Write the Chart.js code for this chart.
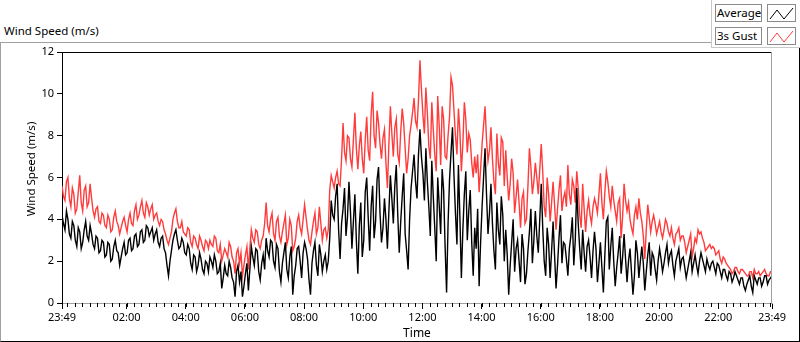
<!DOCTYPE html>
<html>
<head>
<meta charset="utf-8">
<script src="https://cdn.jsdelivr.net/npm/chart.js@4.4.1/dist/chart.umd.min.js"></script>
<style>
  body { margin: 0; background: #fff; font-family: "Noto Sans", sans-serif; }
  #wrap { position: relative; width: 800px; height: 342px; overflow: hidden; }
  #panel { position: absolute; left: 0; top: 42px; width: 798px; height: 298px;
           border-top: 1px solid #a0a0a0; border-left: 1px solid #a0a0a0;
           border-right: 1px solid #000; border-bottom: 1px solid #000; }
  #title { position: absolute; left: 4px; top: 23px; font-size: 11.5px; color: #000; }
  #ytitle { position: absolute; left: -24px; top: 161px; width: 110px; height: 16px; line-height: 16px;
            text-align: center; font-size: 11.5px; transform: rotate(-90deg); }
  #legend { position: absolute; left: 711px; top: 0; width: 89px; height: 48px; background: #fff;
            border-left: 1px solid #c8c8c8; border-bottom: 1px solid #c8c8c8; box-sizing: border-box; }
  .lbl { position: absolute; left: 3px; width: 47px; height: 18px; border: 1px solid #8a8a8a;
         box-sizing: border-box; font-size: 11.5px; line-height: 16px; padding-left: 1px; }
  .ico { position: absolute; left: 55px; width: 29px; height: 18px; border: 1px solid #8a8a8a; box-sizing: border-box; }
  #box { position: absolute; left: 0; top: 42px; width: 800px; height: 300px; }
</style>
</head>
<body>
<div id="wrap">
  <div id="panel"></div>
  <div id="title">Wind Speed (m/s)</div>
  <div id="legend">
    <div class="lbl" style="top:4px">Average</div>
    <div class="ico" style="top:4px"><svg width="27" height="16"><polyline points="2,13 9,4 16,13 25,2" fill="none" stroke="#000" stroke-width="1"/></svg></div>
    <div class="lbl" style="top:27px">3s Gust</div>
    <div class="ico" style="top:27px"><svg width="27" height="16"><polyline points="2,13 9,4 16,13 25,2" fill="none" stroke="#ff3c3c" stroke-width="1"/></svg></div>
  </div>
  <div id="box"><canvas id="chart" width="800" height="300"></canvas></div>
  <div id="ytitle">Wind Speed (m/s)</div>
</div>
<script>
// one sample every 3 minutes, starting 23:49 (20 samples per hour per row)
const STEP_MIN = 3;
const START_MIN = 23 * 60 + 49;
const TOTAL_MIN = 1440;

const avgSpeed = [
  4.2,3.8,3.5,4.4,4.0,3.3,3.1,3.9,3.7,3.0,2.7,3.6,3.4,2.6,2.9,3.5,3.9,3.2,3.0,3.7,
  3.3,2.8,2.6,3.2,3.1,2.4,2.5,3.0,2.9,2.2,2.3,2.9,2.8,2.0,2.1,2.7,3.0,2.5,2.4,1.8,
  2.2,2.6,2.9,2.3,2.4,3.0,3.1,2.5,2.6,3.2,3.3,2.7,2.8,3.4,3.5,2.9,3.0,3.7,3.6,3.2,
  3.4,3.6,3.0,3.3,3.5,2.9,2.7,3.1,3.2,2.6,2.4,1.8,1.3,2.0,2.5,3.0,3.3,3.5,3.0,2.6,
  2.7,3.1,2.9,2.4,2.3,2.8,2.6,1.9,1.6,2.3,2.2,1.5,1.8,2.4,2.1,1.6,1.4,2.0,1.9,1.5,
  2.2,2.0,1.7,2.3,2.0,1.4,1.5,1.9,0.7,1.2,1.8,1.4,1.3,2.0,1.7,1.2,1.0,0.3,1.5,1.8,
  1.0,1.5,0.3,0.8,1.4,1.9,0.6,1.6,2.7,2.2,1.8,2.6,2.5,1.5,1.1,1.9,2.3,1.6,3.1,2.5,
  2.2,3.0,2.9,2.0,1.7,2.8,2.6,1.5,1.0,1.9,2.4,2.9,1.6,1.2,2.2,2.7,0.4,1.3,1.8,2.6,
  2.7,2.0,1.2,2.4,2.9,2.6,2.1,1.1,0.4,1.9,2.5,2.9,1.8,1.3,2.8,2.3,1.5,2.0,2.3,1.6,
  2.0,3.1,4.9,4.2,4.0,5.1,5.7,3.5,2.1,3.8,4.5,5.5,3.2,4.1,5.8,4.4,2.6,3.9,5.2,3.0,
  1.4,3.7,4.8,2.2,3.0,5.3,6.0,4.1,2.5,4.6,5.6,3.1,3.9,5.9,6.5,4.3,2.9,3.6,5.0,4.0,
  2.6,4.4,6.1,5.0,3.8,5.6,6.6,4.2,2.4,3.9,5.1,6.2,3.3,2.5,1.6,4.0,5.5,6.3,7.1,5.8,
  5.0,7.1,8.3,7.0,6.2,4.9,7.4,5.8,4.6,3.2,6.8,5.1,3.6,2.0,6.0,4.7,3.3,6.4,5.4,2.7,
  0.5,3.8,5.9,7.2,8.4,6.1,4.3,2.8,6.6,4.1,1.2,3.5,5.2,6.3,3.0,4.4,5.4,2.9,1.3,3.6,
  2.6,4.5,0.8,2.9,4.6,6.0,7.4,5.2,3.3,4.3,5.7,3.8,2.5,1.6,4.8,3.5,2.8,5.1,4.2,2.0,
  3.5,2.3,0.4,1.8,2.9,4.0,1.5,2.6,3.0,2.0,1.0,3.3,2.6,0.9,1.4,2.5,3.4,4.5,1.9,3.0,
  4.4,3.2,2.4,4.0,5.7,3.6,2.0,1.3,3.6,2.8,1.2,2.5,3.9,2.3,0.7,1.8,3.1,4.2,1.9,2.9,
  2.8,2.1,1.3,2.6,3.2,4.1,1.8,3.0,5.5,3.8,2.6,1.6,3.5,2.4,1.5,2.7,3.0,2.2,1.2,2.5,
  3.4,2.6,1.0,1.9,2.9,1.7,0.5,2.3,3.9,4.1,1.6,2.7,3.6,2.0,0.8,1.7,2.4,3.2,1.4,2.2,
  3.3,2.1,1.0,2.0,2.6,1.5,0.4,1.3,3.0,2.4,1.2,2.0,2.7,1.9,0.6,1.5,2.3,2.9,1.3,2.4,
  2.2,1.6,1.1,2.0,2.6,2.1,1.5,1.9,2.4,2.8,1.9,2.3,2.5,1.8,1.3,2.0,2.3,2.6,1.7,2.1,
  2.2,1.7,1.2,1.6,2.0,2.4,1.5,1.9,2.3,1.8,1.4,2.0,2.4,2.1,1.8,1.5,2.1,1.8,1.6,1.9,
  2.0,1.7,1.4,1.9,1.8,1.5,1.2,1.6,1.6,1.3,1.1,1.5,1.4,1.0,1.2,1.5,1.3,1.1,0.9,1.2,
  1.2,0.8,0.6,0.9,1.1,1.3,0.8,0.5,1.3,1.1,0.9,1.2,1.2,0.8,1.0,1.3,1.3,0.9,1.1,1.2,1.3
];

const gustSpeed = [
  5.6,5.1,4.9,5.8,6.0,5.0,4.6,5.5,5.2,4.3,4.5,5.3,6.1,4.8,4.4,5.4,5.6,4.6,4.8,5.7,
  5.0,4.4,4.1,4.5,4.6,3.9,3.8,4.3,4.2,3.7,3.6,4.2,4.0,3.4,3.5,4.1,4.4,3.9,3.7,3.3,
  3.6,3.9,4.1,3.7,3.4,4.0,4.3,3.8,3.7,4.4,4.7,4.0,4.2,4.6,4.9,4.3,4.1,4.8,4.6,4.2,
  4.5,4.7,4.0,4.2,4.3,3.9,3.7,4.0,3.9,3.5,3.3,3.0,2.8,3.1,3.4,4.0,4.3,4.5,3.9,3.6,
  3.6,3.9,3.4,3.3,3.2,3.6,3.5,2.9,2.7,3.2,3.1,2.8,2.6,3.2,3.0,2.7,2.5,3.0,2.9,2.6,
  3.0,2.8,2.7,3.2,3.1,2.5,2.4,2.8,2.0,2.3,2.6,2.4,2.2,2.9,2.7,2.2,2.0,1.4,2.4,2.6,
  1.9,2.4,1.3,1.8,2.3,2.7,1.6,2.6,3.5,3.1,2.9,3.5,3.4,2.8,2.6,3.0,3.2,3.8,4.8,3.7,
  3.4,4.0,4.3,3.3,3.0,3.9,4.1,3.2,2.9,3.4,3.8,4.2,2.8,3.1,4.0,3.7,2.5,2.7,3.1,3.9,
  4.2,3.6,3.3,4.0,4.7,4.1,3.5,3.0,2.8,3.4,3.9,4.3,3.3,3.6,4.6,3.8,3.0,3.5,3.6,3.1,
  3.5,5.4,6.1,5.8,5.5,6.0,6.3,5.7,5.6,6.9,8.6,7.2,6.8,8.0,7.9,6.9,6.5,7.8,9.1,7.4,
  6.4,7.5,8.2,6.9,6.2,7.8,8.9,7.3,6.8,9.0,10.1,8.0,7.4,9.2,8.6,7.6,6.9,7.9,8.3,6.7,
  5.5,7.6,9.4,8.1,7.0,8.4,8.8,7.1,6.7,8.2,9.3,8.6,7.4,6.2,6.9,8.0,8.5,9.1,9.8,8.7,
  8.4,9.7,11.6,10.2,9.0,8.1,10.3,9.1,7.5,6.9,9.6,8.3,7.1,6.3,9.9,8.5,6.6,9.4,8.8,7.0,
  6.9,8.0,8.9,10.8,10.4,9.2,8.0,7.1,9.3,8.2,6.3,7.6,9.6,8.8,7.2,8.1,7.8,6.7,6.0,7.0,
  6.2,7.1,5.3,6.4,7.6,8.5,9.4,7.8,6.8,7.3,8.4,6.9,5.8,5.2,8.1,6.7,6.1,7.9,7.7,5.6,
  7.3,6.0,4.9,5.7,6.9,6.2,4.3,5.1,5.9,4.8,3.6,5.0,5.3,3.8,4.0,5.6,7.4,6.5,5.2,5.8,
  6.7,6.0,5.2,6.4,7.6,6.3,4.6,4.1,6.0,5.2,3.9,4.8,5.8,4.7,3.5,4.5,5.4,6.1,4.4,5.0,
  5.3,4.6,6.6,5.2,4.7,5.9,5.6,4.8,6.3,5.5,4.2,3.6,5.7,4.5,3.4,4.4,4.9,4.2,3.8,4.6,
  5.0,4.7,4.3,5.2,6.2,4.8,4.0,5.3,6.3,5.8,5.1,4.6,5.6,4.9,4.4,3.9,4.8,5.0,3.1,4.1,
  5.7,4.9,4.4,4.8,4.0,3.6,3.3,4.2,4.6,4.0,5.0,4.3,3.9,3.2,2.1,3.5,4.7,4.1,3.4,3.9,
  4.2,3.8,3.3,3.6,3.9,3.4,3.1,3.5,4.0,3.8,3.4,3.2,3.6,3.1,2.8,3.3,3.4,3.6,3.0,3.2,
  3.2,2.9,2.4,2.7,3.0,3.3,2.2,2.6,3.1,2.9,3.5,3.3,3.4,3.1,2.9,2.5,2.6,2.7,2.8,2.6,
  2.7,2.6,2.3,2.4,2.5,2.1,1.9,2.2,2.1,1.9,1.8,1.7,1.6,1.4,1.5,1.7,1.7,1.5,1.4,1.6,
  1.6,1.5,1.4,1.3,1.3,1.5,1.5,1.2,1.6,1.4,1.4,1.5,1.3,1.4,1.5,1.6,1.4,1.3,1.3,1.5,1.5
];

// labelled ticks: start, every even hour, end (minutes after 23:49)
const majorTicks = [0, 131, 251, 371, 491, 611, 731, 851, 971, 1091, 1211, 1331, 1440];
const FIRST_QUARTER = 11; // 00:00

function timeLabel(m) {
  const t = (START_MIN + m) % 1440;
  const h = Math.floor(t / 60), mm = t % 60;
  return String(h).padStart(2, '0') + ':' + String(mm).padStart(2, '0');
}

const toPoints = arr => arr.map((v, i) => ({ x: i * STEP_MIN, y: v }));

// plot frame (top / right) and the small quarter-hour ticks
const frameAndTicks = {
  id: 'frameAndTicks',
  afterDraw(chart) {
    const { ctx, chartArea: a } = chart;
    const x = chart.scales.x;
    ctx.save();
    ctx.lineWidth = 1;
    ctx.strokeStyle = '#000';
    ctx.beginPath();
    ctx.moveTo(a.left, a.top + 0.5);
    ctx.lineTo(a.right, a.top + 0.5);
    ctx.stroke();
    ctx.strokeStyle = '#a0a0a0';
    ctx.beginPath();
    ctx.moveTo(a.right - 0.5, a.top);
    ctx.lineTo(a.right - 0.5, a.bottom);
    ctx.stroke();
    ctx.strokeStyle = '#000';
    ctx.beginPath();
    for (let m = FIRST_QUARTER; m < TOTAL_MIN; m += 15) {
      const px = Math.round(x.getPixelForValue(m)) + 0.5;
      ctx.moveTo(px, a.bottom);
      ctx.lineTo(px, a.bottom + 4);
    }
    ctx.stroke();
    ctx.restore();
  }
};

Chart.defaults.font.family = '"Noto Sans", sans-serif';
Chart.defaults.font.size = 11;
Chart.defaults.color = '#000';

new Chart(document.getElementById('chart'), {
  type: 'line',
  data: {
    datasets: [
      { label: 'Average', data: toPoints(avgSpeed), borderColor: '#000', borderWidth: 1.4,
        pointRadius: 0, tension: 0 },
      { label: '3s Gust', data: toPoints(gustSpeed), borderColor: '#ff3c3c', borderWidth: 1.4,
        pointRadius: 0, tension: 0 }
    ]
  },
  options: {
    responsive: false,
    animation: false,
    layout: { padding: { top: 10, right: 28, left: 0, bottom: 0 } },
    plugins: { legend: { display: false }, tooltip: { enabled: false } },
    scales: {
      x: {
        type: 'linear',
        min: 0,
        max: TOTAL_MIN,
        afterBuildTicks: s => { s.ticks = majorTicks.map(v => ({ value: v })); },
        afterFit: s => { s.height = 39; },
        ticks: { autoSkip: false, maxRotation: 0, padding: 2, callback: v => timeLabel(v) },
        grid: { drawOnChartArea: false, tickLength: 6, color: '#000' },
        border: { color: '#a0a0a0' },
        title: { display: true, text: 'Time', padding: { top: 0, bottom: 1 }, font: { size: 12 } }
      },
      y: {
        min: 0,
        max: 12,
        afterFit: s => { s.width = 62; },
        ticks: { stepSize: 2, padding: 3 },
        grid: { drawOnChartArea: false, tickLength: 5, color: '#000' },
        border: { color: '#000' }
      }
    }
  },
  plugins: [frameAndTicks]
});
</script>
</body>
</html>
